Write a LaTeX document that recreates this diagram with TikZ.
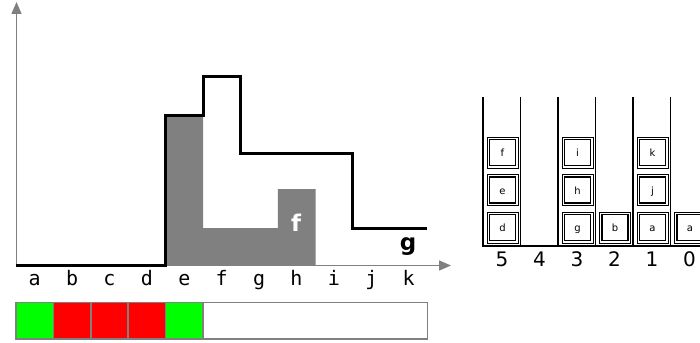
\documentclass[tikz,border=0pt]{standalone}
\usepackage{fontspec}
\setmainfont{DejaVu Sans}
\newfontfamily\monofam{DejaVu Sans Mono}
\usetikzlibrary{arrows.meta}
\definecolor{axisgray}{RGB}{128,128,128}
\definecolor{fillgray}{RGB}{128,128,128}
\definecolor{barg}{RGB}{0,255,0}
\definecolor{barr}{RGB}{255,0,0}
\tikzset{
  axisline/.style={draw=axisgray, line width=1.5pt, -{Triangle[length=12pt,width=10pt]}},
  stepline/.style={draw=black, line width=3pt, line join=miter},
  collabel/.style={anchor=base, inner sep=0pt, font=\monofam\fontsize{20}{20}\selectfont},
  numlabel/.style={anchor=base, inner sep=0pt, font=\fontsize{20}{20}\selectfont},
  boxlabel/.style={anchor=base, inner sep=0pt, font=\fontsize{10}{10}\selectfont},
  bigbold/.style={anchor=base, inner sep=0pt, font=\bfseries\fontsize{23}{23}\selectfont},
  barcell/.style={draw=axisgray, line width=1.5pt},
  stackwall/.style={draw=black, line width=1.5pt},
}
\begin{document}
\begin{tikzpicture}[x=1pt,y=-1pt]
\useasboundingbox (0,0) rectangle (700,342);
% axes
\draw[axisline] (16.5,265.5) -- (16.5,2);
\draw[axisline] (16,265.5) -- (451,265.5);
% gray fill
\fill[fillgray] (165.6,115) -- (203,115) -- (203,228) -- (277.8,228) -- (277.8,189) -- (315.6,189) -- (315.6,265.5) -- (165.6,265.5) -- cycle;
% step line
\draw[stepline] (16,265) -- (165.6,265) -- (165.6,115) -- (203,115) -- (203,77) -- (240.4,77) -- (240.4,153) -- (352.6,153) -- (352.6,228) -- (427,228);
% labels
\node[bigbold, text=white] (lf) at (296,231.7) {f};
\node[bigbold] (lg) at (408,250.5) {g};
\foreach \l [count=\i from 0] in {a,b,c,d,e,f,g,h,i,j,k} {
  \node[collabel] (c\l) at ({16+37.4*\i+18.7},285) {\l};
}
% bottom bar
\fill[barg] (16,302.5) rectangle (53.4,339);
\fill[barr] (53.4,302.5) rectangle (165.6,339);
\fill[barg] (165.6,302.5) rectangle (203,339);
\foreach \x in {53.4,90.8,128.2,165.6,203} {
  \draw[axisgray, line width=1.5pt] (\x,302.5) -- (\x,339);
}
\draw[barcell] (16,302.5) rectangle (427.4,339);
% stacks
\foreach \k in {0,...,5} {
  \draw[stackwall] ({483+37.5*\k},97) -- ({483+37.5*\k},246.5);
}
\draw[stackwall] (482.25,246) -- (700,246);
\foreach \n [count=\k from 0] in {5,4,3,2,1,0} {
  \node[numlabel] (n\n) at ({483+37.5*\k+19},266.5) {\n};
}
% boxes: column index, level, label
\foreach \k/\lv/\t in {0/0/d,0/1/e,0/2/f,2/0/g,2/1/h,2/2/i,3/0/b,4/0/a,4/1/j,4/2/k,5/0/a} {
  \pgfmathsetmacro{\bx}{483+37.5*\k+4}
  \pgfmathsetmacro{\by}{212-37.5*\lv}
  \draw[black, line width=0.9pt] (\bx,\by) rectangle ({\bx+31},{\by+31});
  \draw[black, line width=1.4pt] ({\bx+2.6},{\by+2.6}) rectangle ({\bx+31-2.6},{\by+31-2.6});
  \node[boxlabel] (b\k\lv) at ({\bx+15.5},{\by+19.7}) {\t};
}
\end{tikzpicture}
\end{document}
